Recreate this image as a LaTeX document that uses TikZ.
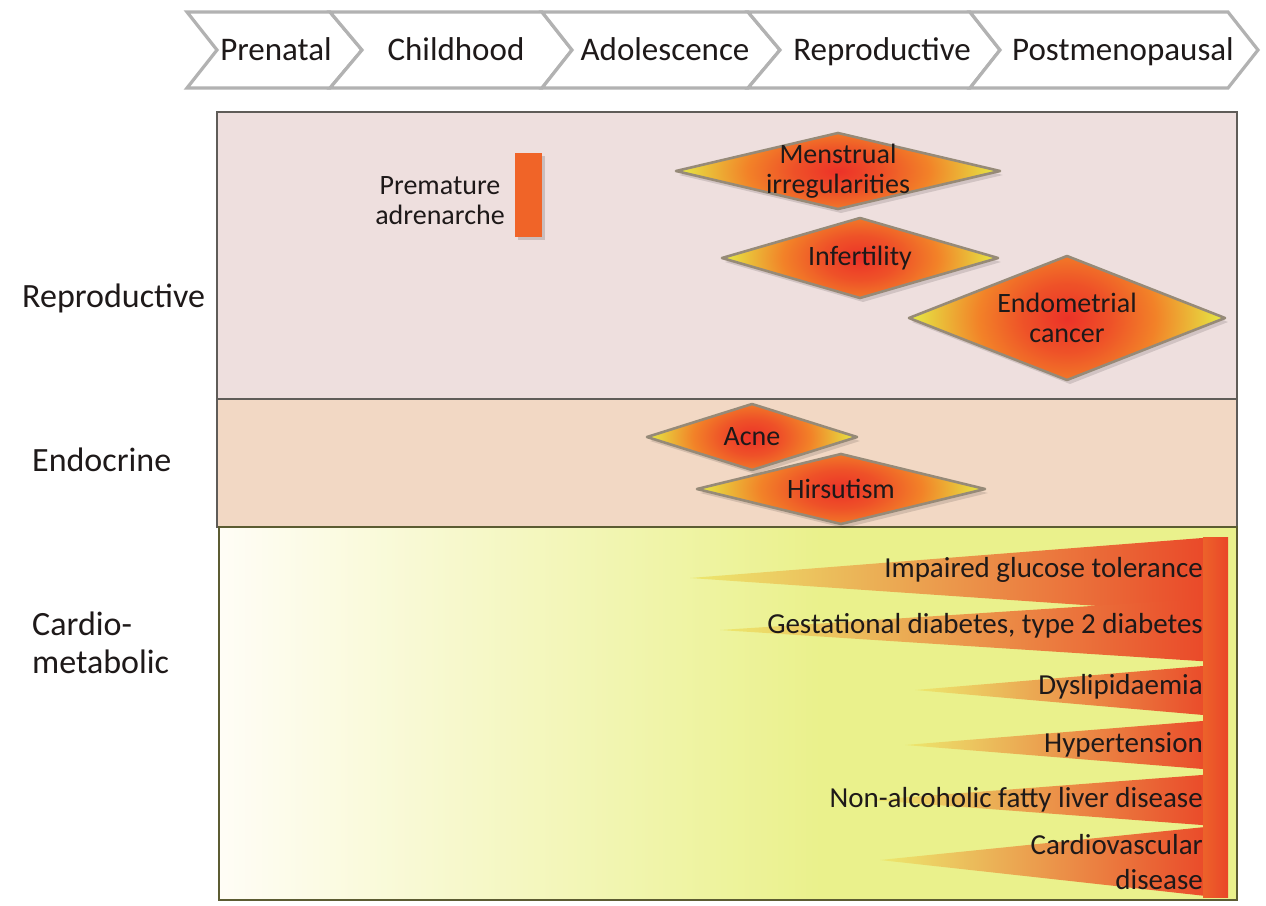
\documentclass[tikz,border=0pt]{standalone}
\usepackage{fontspec}
\setmainfont{Carlito}
\definecolor{reprofill}{RGB}{238,223,222}
\definecolor{endofill}{RGB}{242,216,196}
\definecolor{cardioR}{RGB}{234,241,140}
\definecolor{cardioL}{RGB}{255,253,246}
\definecolor{panelline}{RGB}{95,92,88}
\definecolor{oliveline}{RGB}{92,92,50}
\definecolor{dred}{RGB}{236,50,40}
\definecolor{dorange}{RGB}{242,130,40}
\definecolor{dyellow}{RGB}{228,236,70}
\definecolor{dborder}{RGB}{150,138,120}
\definecolor{wred}{RGB}{234,70,40}
\definecolor{worange}{RGB}{240,140,45}
\definecolor{wyellow}{RGB}{236,232,110}
\definecolor{barcol}{RGB}{240,100,40}
\definecolor{txt}{RGB}{30,25,25}
\pgfdeclareradialshading{dshade}{\pgfpoint{0bp}{0bp}}{color(0bp)=(dred); color(7bp)=(dred!60!dorange); color(14bp)=(dorange); color(25bp)=(dyellow); color(50bp)=(dyellow)}
\tikzset{
  chev/.style={fill=white, draw=gray!60, line width=3.2pt, line join=miter},
  chevtext/.style={font=\fontsize{33}{38}\selectfont, text=txt, inner sep=0pt, anchor=base},
  panel/.style={draw=panelline, line width=2.4pt},
  sidelabel/.style={font=\fontsize{34}{38}\selectfont, text=txt, anchor=base west, align=left, inner sep=0pt},
  dtext/.style={font=\fontsize{28}{30}\selectfont, text=txt, align=center, inner sep=0pt},
  dedge/.style={draw=dborder, line width=2.6pt, line join=round},
  dshadow/.style={fill=black, opacity=0.12},
  ctext/.style={font=\fontsize{29}{35}\selectfont, text=txt, anchor=east, align=right, inner sep=0pt},
  wedge/.style={left color=wyellow, middle color=worange, right color=wred, draw=none}
}
\newcommand{\riskdiamond}[6]{%
  \fill[dshadow] (#2-#4+3,#3+4) -- (#2+3,#3-#5+4) -- (#2+#4+3,#3+4) -- (#2+3,#3+#5+4) -- cycle;
  \begin{scope}
    \clip (#2-#4,#3) -- (#2,#3-#5) -- (#2+#4,#3) -- (#2,#3+#5) -- cycle;
    \shade[shading=dshade] (#2-#4,#3-2*#5) rectangle (#2+#4,#3+2*#5);
  \end{scope}
  \draw[dedge] (#2-#4,#3) -- (#2,#3-#5) -- (#2+#4,#3) -- (#2,#3+#5) -- cycle;
  \node[dtext] (#1) at (#2,#3) {#6};
}
\begin{document}
\begin{tikzpicture}[x=1pt,y=-1pt]
\useasboundingbox (0,0) rectangle (1266,905);
\fill[white] (0,0) rectangle (1266,905);

% chevrons
\draw[chev] (187,12) -- (330,12) -- (362,50) -- (330,88) -- (187,88) -- (217,50) -- cycle;
\draw[chev] (330,12) -- (542,12) -- (572,50) -- (542,88) -- (330,88) -- (362,50) -- cycle;
\draw[chev] (542,12) -- (748,12) -- (780,50) -- (748,88) -- (542,88) -- (572,50) -- cycle;
\draw[chev] (748,12) -- (970,12) -- (1000,50) -- (970,88) -- (748,88) -- (780,50) -- cycle;
\draw[chev] (970,12) -- (1228,12) -- (1258,50) -- (1228,88) -- (970,88) -- (1000,50) -- cycle;
\node[chevtext] (c1) at (276,60) {Prenatal};
\node[chevtext] (c2) at (456,60) {Childhood};
\node[chevtext] (c3) at (665,60) {Adolescence};
\node[chevtext] (c4) at (882,60) {Reproductive};
\node[chevtext] (c5) at (1123,60) {Postmenopausal};

% panels
\fill[reprofill] (217,112) rectangle (1237,399);
\fill[endofill] (217,399) rectangle (1237,527);
\shade[left color=cardioL, right color=cardioR] (219,527) rectangle (820,900);
\fill[cardioR] (819,527) rectangle (1237,900);

% cardio wedges
\shade[wedge] (690,578) -- (1215,537) -- (1215,614) -- cycle;
\shade[wedge] (720,630) -- (1215,598) -- (1215,662) -- cycle;
\shade[wedge] (915,690) -- (1215,665) -- (1215,716) -- cycle;
\shade[wedge] (905,745) -- (1215,720) -- (1215,770) -- cycle;
\shade[wedge] (870,800) -- (1215,774) -- (1215,826) -- cycle;
\shade[wedge] (880,860) -- (1215,826) -- (1215,897) -- cycle;
\shade[left color=worange!40!wred, right color=wred] (1203,537) rectangle (1228,897);

\draw[panel] (217,112) rectangle (1237,399);
\draw[panel] (217,399) rectangle (1237,527);
\draw[panel, draw=oliveline] (219,527) rectangle (1237,900);

% left labels
\node[sidelabel] (lrep) at (22,307) {Reproductive};
\node[sidelabel] (lend) at (32,471) {Endocrine};
\node[sidelabel] (lcar) at (32,673) {Cardio-\\metabolic};

% premature adrenarche
\fill[black, opacity=0.15] (518,156) rectangle (545,240);
\fill[barcol] (515,153) rectangle (542,237);
\node[dtext] (pa) at (440,201) {Premature\\adrenarche};

% diamonds
\riskdiamond{mens}{838}{171}{162}{38}{Menstrual\\irregularities}
\riskdiamond{inf}{860}{258}{138}{40}{Infertility}
\riskdiamond{endo}{1067}{318}{158}{62}{Endometrial\\cancer}
\riskdiamond{acne}{752}{437}{105}{33}{Acne}
\riskdiamond{hirs}{841}{489}{144}{35}{Hirsutism}

% cardio texts
\node[ctext] (t1) at (1203,570) {Impaired glucose tolerance};
\node[ctext] (t2) at (1203,626) {Gestational diabetes, type 2 diabetes};
\node[ctext] (t3) at (1203,687) {Dyslipidaemia};
\node[ctext] (t4) at (1203,745) {Hypertension};
\node[ctext] (t5) at (1203,800) {Non-alcoholic fatty liver disease};
\node[ctext] (t6) at (1203,862) {Cardiovascular\\disease};
\end{tikzpicture}
\end{document}
